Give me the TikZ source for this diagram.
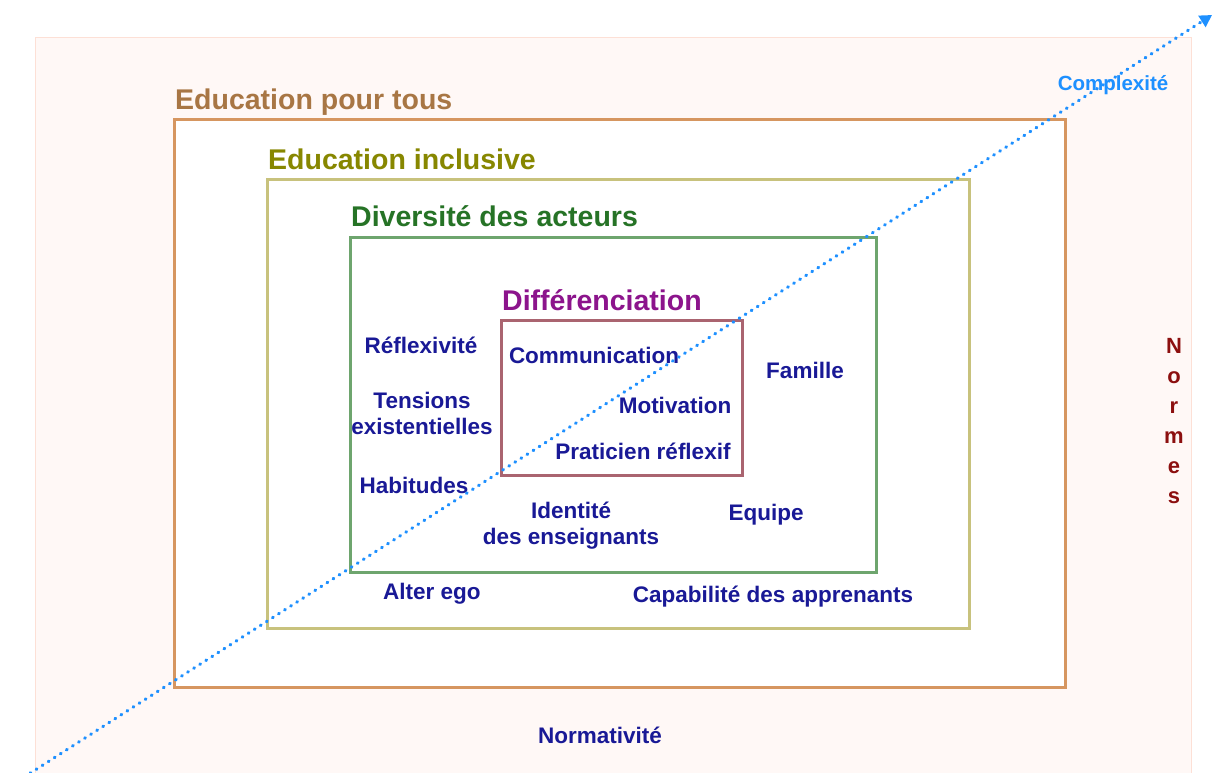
\documentclass[tikz,border=0pt]{standalone}
\usepackage{fontspec}
\setmainfont{Liberation Sans}
\usetikzlibrary{arrows.meta,positioning}

\definecolor{fondRose}{RGB}{255,248,246}
\definecolor{bordRose}{RGB}{253,224,214}
\definecolor{cTous}{RGB}{214,150,96}
\definecolor{tTous}{RGB}{168,118,68}
\definecolor{cIncl}{RGB}{200,194,125}
\definecolor{tIncl}{RGB}{135,135,0}
\definecolor{cDiv}{RGB}{110,165,110}
\definecolor{tDiv}{RGB}{38,115,38}
\definecolor{cDiff}{RGB}{170,100,112}
\definecolor{tDiff}{RGB}{140,20,140}
\definecolor{bleuNuit}{RGB}{25,25,150}
\definecolor{bleuCiel}{RGB}{30,144,255}
\definecolor{rougeSombre}{RGB}{140,15,15}

\begin{document}
\begin{tikzpicture}[
  x=1pt, y=-1pt,
  font=\bfseries,
  cadre/.style={draw, line width=3pt, fill=white, inner sep=0pt},
  titre/.style={anchor=base west, inner sep=0pt, font=\bfseries\fontsize{28.5}{32}\selectfont},
  mot/.style={text=bleuNuit, align=center, inner sep=0pt, font=\bfseries\fontsize{22.5}{26}\selectfont},
  fleche/.style={bleuCiel, line width=3.2pt, line cap=round, dash pattern=on 0.8pt off 6.4pt,
    -{Triangle[length=12pt,width=13pt]}}
]
\useasboundingbox (0,0) rectangle (1213,773);

% fond
\node[draw=bordRose, fill=fondRose, line width=1.2pt, minimum width=1156, minimum height=760, inner sep=0pt, anchor=north west] (fond) at (35,37) {};

% cadres emboites
\node[cadre, draw=cTous, minimum width=891, minimum height=567] (tous) at (619.5,403.5) {};
\node[cadre, draw=cIncl, minimum width=702, minimum height=449] (incl) at (618,403.5) {};
\node[cadre, draw=cDiv, minimum width=526, minimum height=335] (div) at (613,404.5) {};
\node[cadre, draw=cDiff, minimum width=241, minimum height=155] (diff) at (621.5,397.5) {};

% titres
\node[titre, text=tTous] (nTous) at (175,110) {Education pour tous};
\node[titre, text=tIncl] (nIncl) at (268,170) {Education inclusive};
\node[titre, text=tDiv] (nDiv) at (351,226) {Diversité des acteurs};
\node[titre, text=tDiff] (nDiff) at (502,310) {Différenciation};

% mots
\node[mot] (reflex) at (421,345) {Réflexivité};
\node[mot] (tensions) at (422,413) {Tensions\\existentielles};
\node[mot] (habit) at (414,485) {Habitudes};
\node[mot] (comm) at (594,355) {Communication};
\node[mot] (motiv) at (675,405) {Motivation};
\node[mot] (prat) at (643,451) {Praticien réflexif};
\node[mot] (famille) at (805,370) {Famille};
\node[mot] (ident) at (571,526) {Identité\\des enseignants};
\node[mot] (equipe) at (766,515) {Equipe};
\node[mot] (alter) at (432,594) {Alter ego};
\node[mot] (capab) at (773,597) {Capabilité des apprenants};
\node[mot] (norma) at (600,735) {Normativité};
\node[mot, text=rougeSombre, font=\bfseries\fontsize{22}{30}\selectfont] (normes) at (1174,421) {N\\o\\r\\m\\e\\s};
\node[mot, text=bleuCiel, font=\bfseries\fontsize{20.5}{24}\selectfont] (complex) at (1113,85) {Complexité};

% axe de complexite
\coordinate (debut) at (18,781);
\coordinate (fin) at (1212,15);
\draw[fleche] (debut) -- (fin);
\end{tikzpicture}
\end{document}
